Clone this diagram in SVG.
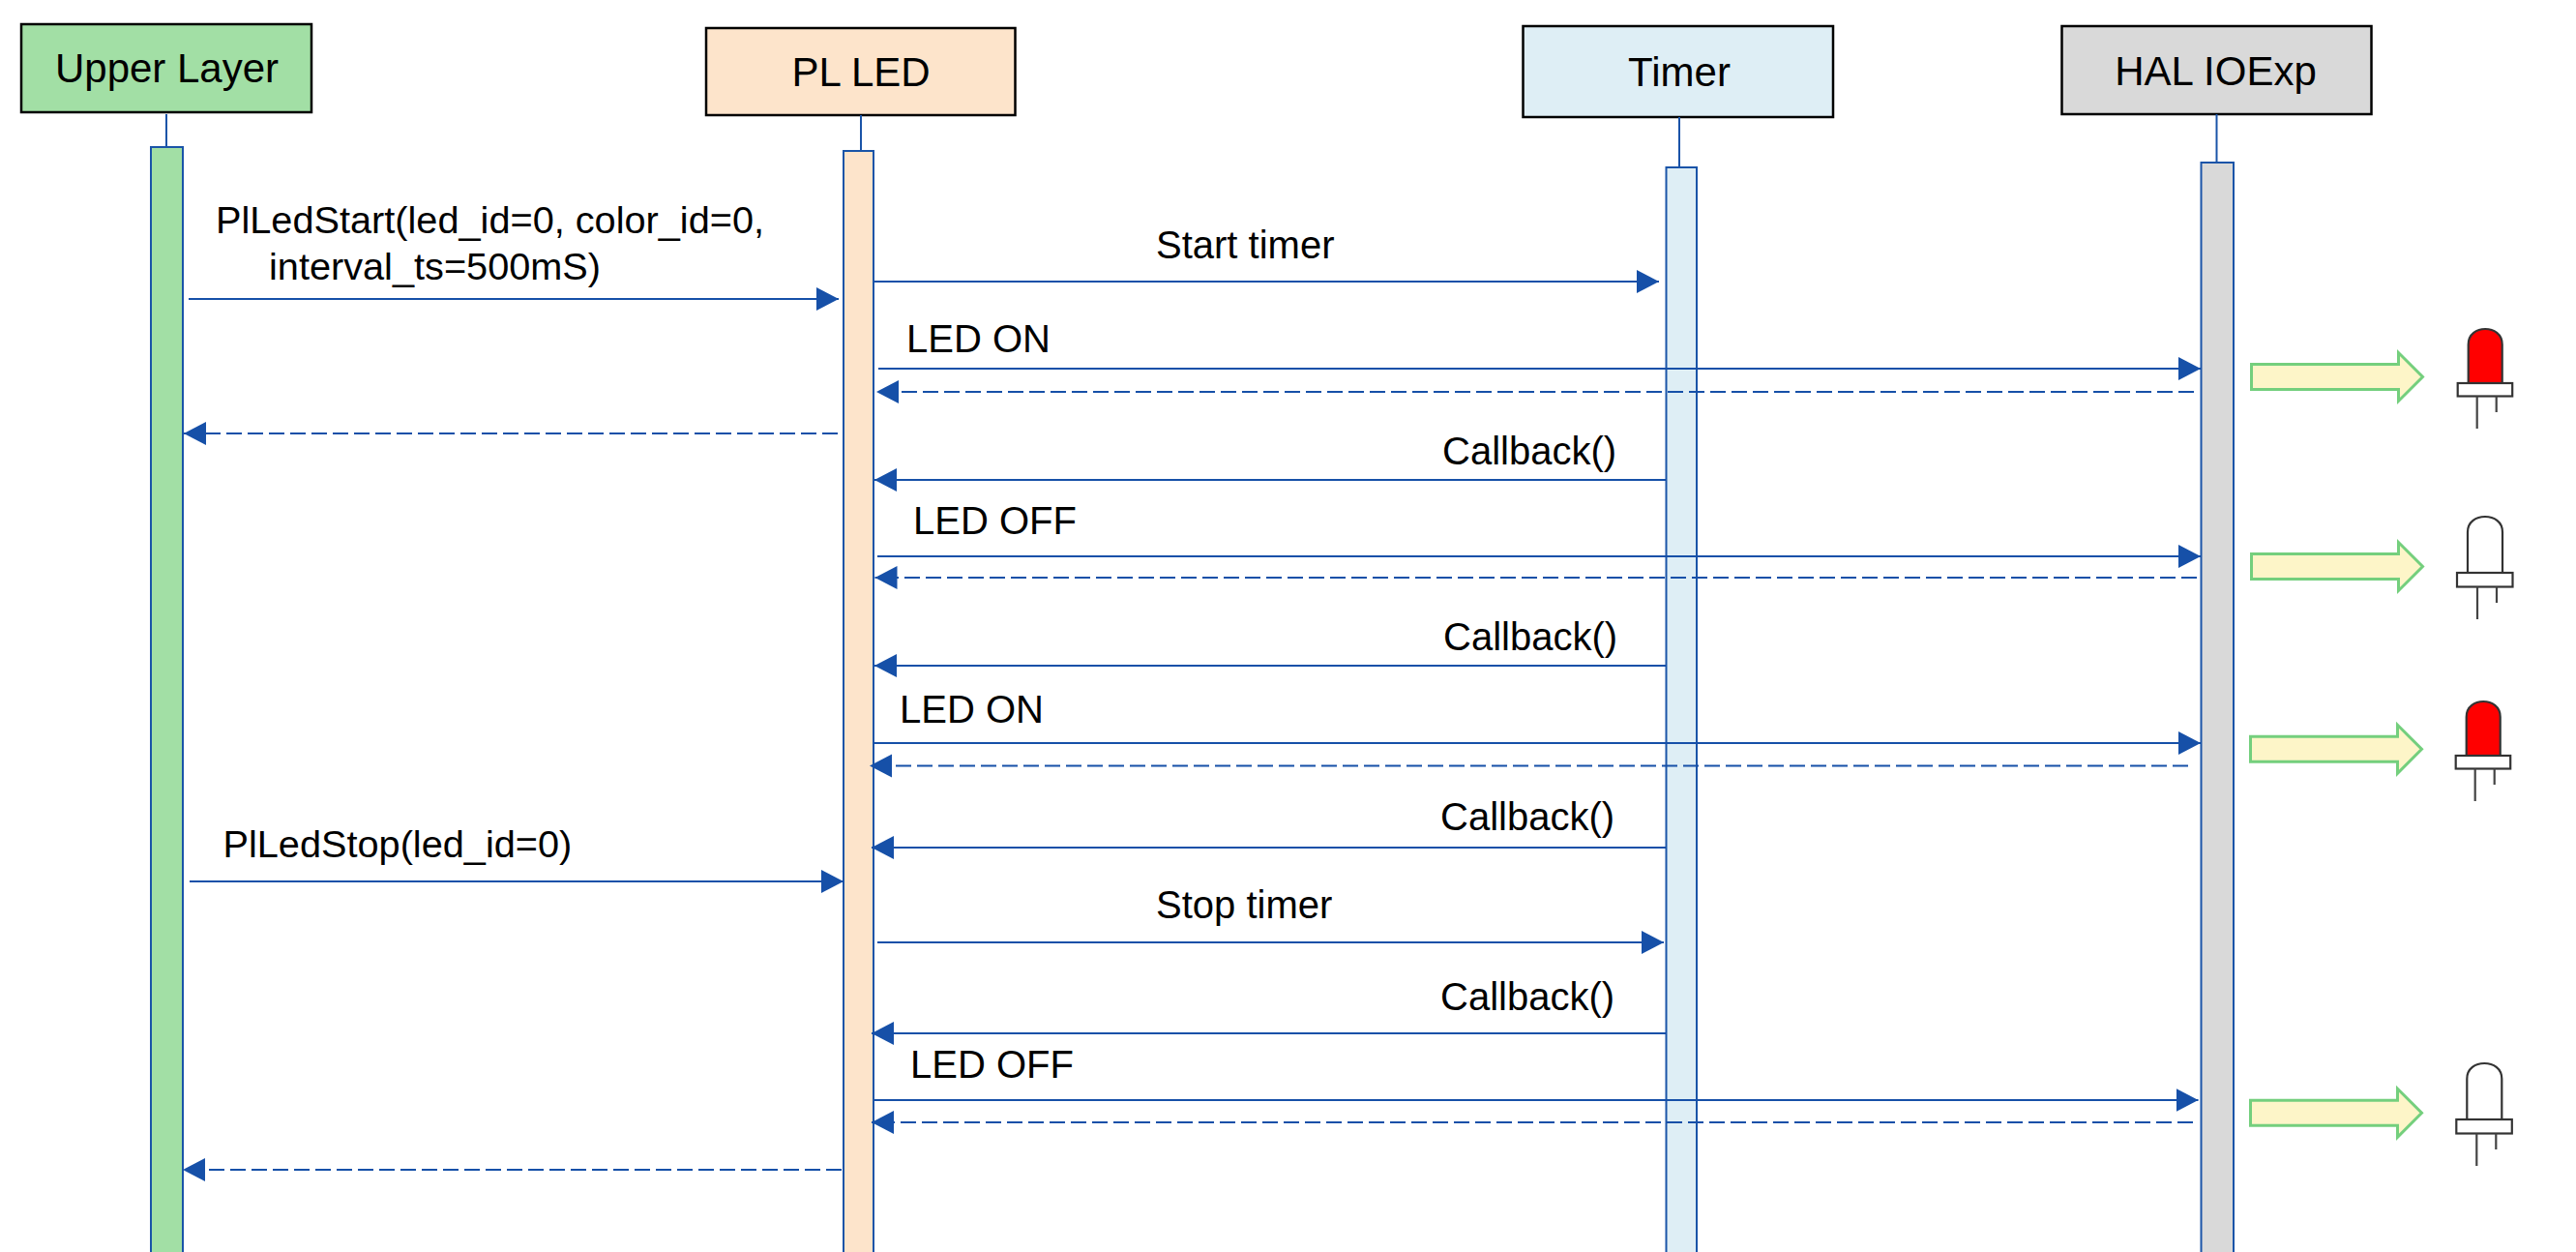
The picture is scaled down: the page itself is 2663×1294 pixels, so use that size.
<svg xmlns="http://www.w3.org/2000/svg" width="2663" height="1294" viewBox="0 0 2663 1294">
<style>
text{font-family:"Liberation Sans",Arial,sans-serif;fill:#000;font-size:40px}
.t{font-size:42px;text-anchor:middle}
.c{font-size:39.700px}
.h{stroke:#000;stroke-width:2.5}
.ll{stroke:#1a54a8;stroke-width:2;fill:none}
.m{stroke:#1650a8;stroke-width:2.2;fill:none}
.d{stroke:#1650a8;stroke-width:2.2;fill:none;stroke-dasharray:16 6}
.ba{fill:#fdf5c8;stroke:#74cf7d;stroke-width:3}
.lg{stroke:#444;stroke-width:2.2;fill:none}
.lb{fill:#fff;stroke:#333;stroke-width:2.2}
</style>
<defs>
<marker id="a" markerUnits="userSpaceOnUse" markerWidth="24" markerHeight="25" refX="23" refY="12" orient="auto"><path d="M0 0L23 12L0 24Z" fill="#1650a8"/></marker>
<g id="ledOn"><path class="lb" style="fill:#f00" d="M11 56V16C11 5 20 0 28.500 0C37 0 46 5 46 16V56Z"/><rect class="lb" x="0" y="56" width="56.500" height="13.500"/><path class="lg" d="M20 69.500V103M40 69.500V86"/></g>
<g id="ledOff"><path class="lb" d="M11 58V16C11 5 20 0 29 0C38 0 47 5 47 16V58Z"/><rect class="lb" x="0" y="58" width="57.500" height="14.500"/><path class="lg" d="M21 72.500V106M41 72.500V89"/></g>
<path id="bigArrow" class="ba" d="M0 -13H152V-25L177 0L152 25V13H0Z"/>
</defs>
<g id="upper-layer"><rect class="h" x="22" y="25" width="300" height="91" fill="#a2dfa5"/><text class="t" x="172.500" y="85">Upper Layer</text><path class="ll" d="M172 118V152"/><rect class="ll" style="fill:#a2dfa5" x="156" y="152" width="33" height="1150"/></g>
<g id="pl-led"><rect class="h" x="730" y="29" width="319.500" height="90" fill="#fde4cb"/><text class="t" x="890" y="89">PL LED</text><path class="ll" d="M890 119V156"/><rect class="ll" style="fill:#fde4cb" x="872" y="156" width="31" height="1150"/></g>
<g id="timer"><rect class="h" x="1574.500" y="27" width="320.500" height="94" fill="#deeef5"/><text class="t" x="1736" y="89">Timer</text><path class="ll" d="M1736 121V173"/><rect class="ll" style="fill:#deeef5" x="1722.500" y="173" width="31.500" height="1150"/></g>
<g id="hal-ioexp"><rect class="h" x="2131.500" y="27" width="320" height="91" fill="#d9d9d9"/><text class="t" x="2290.500" y="88">HAL IOExp</text><path class="ll" d="M2291.500 118V168"/><rect class="ll" style="fill:#d9d9d9" x="2275.500" y="168" width="33.500" height="1150"/></g>
<g id="connectors">
<path class="m" marker-end="url(#a)" d="M195 309H867"/>
<path class="m" marker-end="url(#a)" d="M904 291H1715"/>
<path class="m" marker-end="url(#a)" d="M908 381H2275"/>
<path class="d" marker-end="url(#a)" d="M2268 405H906"/>
<path class="d" marker-end="url(#a)" d="M866 448H190"/>
<path class="m" marker-end="url(#a)" d="M1722 496H904"/>
<path class="m" marker-end="url(#a)" d="M907 575H2275"/>
<path class="d" marker-end="url(#a)" d="M2271 597H904.500"/>
<path class="m" marker-end="url(#a)" d="M1722 688H904"/>
<path class="m" marker-end="url(#a)" d="M902 768H2275"/>
<path class="d" marker-end="url(#a)" d="M2262 791.500H899"/>
<path class="m" marker-end="url(#a)" d="M1722 876H901"/>
<path class="m" marker-end="url(#a)" d="M196 911H872"/>
<path class="m" marker-end="url(#a)" d="M907 974H1720"/>
<path class="m" marker-end="url(#a)" d="M1722 1068H901"/>
<path class="m" marker-end="url(#a)" d="M904 1137H2272.500"/>
<path class="d" marker-end="url(#a)" d="M2267 1160H901"/>
<path class="d" marker-end="url(#a)" d="M870 1209H189"/>
</g>
<g id="labels">
<text class="c" x="223" y="241">PlLedStart(led_id=0, color_id=0,</text>
<text class="c" x="278" y="289">interval_ts=500mS)</text>
<text x="1195" y="267">Start timer</text>
<text x="937" y="364">LED ON</text>
<text x="1491" y="480">Callback()</text>
<text x="944" y="552">LED OFF</text>
<text x="1492" y="672">Callback()</text>
<text x="930" y="747">LED ON</text>
<text x="1489" y="858">Callback()</text>
<text class="c" x="230.500" y="886">PlLedStop(led_id=0)</text>
<text x="1195" y="949">Stop timer</text>
<text x="1489" y="1044">Callback()</text>
<text x="941" y="1114">LED OFF</text>
</g>
<g id="indicator-1"><use href="#bigArrow" x="2327.500" y="389.500"/><use href="#ledOn" x="2540.700" y="340"/></g>
<g id="indicator-2"><use href="#bigArrow" x="2327.500" y="585.500"/><use href="#ledOff" x="2540" y="534"/></g>
<g id="indicator-3"><use href="#bigArrow" x="2326.500" y="774.300"/><use href="#ledOn" x="2538.700" y="725"/></g>
<g id="indicator-4"><use href="#bigArrow" x="2326.500" y="1150.300"/><use href="#ledOff" x="2539.300" y="1099"/></g>
</svg>
